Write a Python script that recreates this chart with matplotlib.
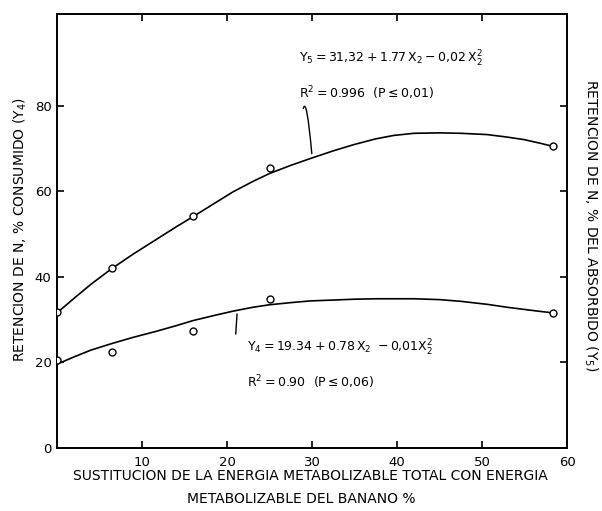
import matplotlib
matplotlib.use("Agg")
import matplotlib.pyplot as plt

# Observed data points
x_obs = [0, 6.5, 16, 25, 58.4]
y5_obs = [31.8, 42.0, 54.2, 65.5, 70.6]
y4_obs = [20.6, 22.5, 27.4, 34.9, 31.6]

# Fitted curves
x_curve = [0, 2, 4, 6.4, 9, 11.7, 14, 16, 18.5, 20.7, 23, 25, 27.5, 29.8, 32.5, 35, 37.5, 39.6, 42, 45, 47.5, 50.6, 53, 55, 57, 58.4]
y5_curve = [31.6, 35.0, 38.3, 41.9, 45.4, 48.8, 51.7, 54.1, 57.2, 59.9, 62.3, 64.2, 66.1, 67.7, 69.5, 71.0, 72.3, 73.1, 73.6, 73.7, 73.6, 73.3, 72.7, 72.1, 71.2, 70.5]
y4_curve = [19.6, 21.3, 22.9, 24.4, 25.9, 27.3, 28.6, 29.8, 31.0, 32.0, 32.9, 33.5, 34.0, 34.4, 34.6, 34.8, 34.9, 34.9, 34.9, 34.7, 34.3, 33.6, 32.9, 32.4, 31.9, 31.6]

x_ticks = [10, 20, 30, 40, 50, 60]
y_ticks = [0, 20, 40, 60, 80]

fig = plt.figure(figsize=(6.02, 5.11), dpi=100)
ax = fig.add_axes([0.0947, 0.1233, 0.8473, 0.8493])
ax.set_xlim(0, 60)
ax.set_ylim(0, 101.5)

ax.plot(x_curve, y5_curve, color="black", lw=1.2, zorder=2)
ax.plot(x_curve, y4_curve, color="black", lw=1.2, zorder=2)
ax.plot(x_obs, y5_obs, "o", ms=5, mfc="white", mec="black", mew=1.0, zorder=3)
ax.plot(x_obs, y4_obs, "o", ms=5, mfc="white", mec="black", mew=1.0, zorder=3)

for s in ax.spines.values():
    s.set_linewidth(1.4)
    s.set_color("black")

ax.set_xticks(x_ticks)
ax.set_yticks(y_ticks)
ax.set_xticklabels([str(v) for v in x_ticks], fontsize=9.5)
ax.set_yticklabels([str(v) for v in y_ticks], fontsize=9.5)
ax.tick_params(axis="both", direction="in", length=5, width=1.2, pad=6,
               top=True, right=True, labeltop=False, labelright=False)
ax.tick_params(axis="y", pad=4)

fs = 10
fig.text(0.515, 0.068, "SUSTITUCION DE LA ENERGIA METABOLIZABLE TOTAL CON ENERGIA",
         ha="center", va="center", fontsize=fs)
fig.text(0.50, 0.024, "METABOLIZABLE DEL BANANO %",
         ha="center", va="center", fontsize=fs)
fig.text(0.033, 0.55, "RETENCION DE N, % CONSUMIDO (Y$_4$)", rotation=90,
         ha="center", va="center", fontsize=fs)
fig.text(0.982, 0.56, "RETENCION DE N, % DEL ABSORBIDO (Y$_5$)", rotation=-90,
         ha="center", va="center", fontsize=fs)

# Equations
ax.text(28.5, 91.0, r"$\mathregular{Y_5 = 31{,}32 + 1.77\,X_2 - 0{,}02\,X_2^2}$",
        fontsize=9, ha="left", va="center")
ax.text(28.5, 83.0, r"$\mathregular{R^2 = 0.996\ \ (P \leq 0{,}01)}$",
        fontsize=9, ha="left", va="center")
ax.text(22.3, 23.5, r"$\mathregular{Y_4 = 19.34 + 0.78\,X_2\ - 0{,}01 X_2^2}$",
        fontsize=9, ha="left", va="center")
ax.text(22.3, 15.5, r"$\mathregular{R^2 = 0.90\ \ (P \leq 0{,}06)}$",
        fontsize=9, ha="left", va="center")

# Pointer squiggles
ax.annotate("", xy=(30.0, 68.2), xytext=(28.9, 78.8),
            arrowprops=dict(arrowstyle="-", lw=1.0, color="black",
                            connectionstyle="angle3,angleA=80,angleB=95"))
ax.annotate("", xy=(21.2, 32.0), xytext=(21.0, 26.0),
            arrowprops=dict(arrowstyle="-", lw=1.0, color="black"))

fig.savefig("out.png", dpi=100, facecolor="white")
